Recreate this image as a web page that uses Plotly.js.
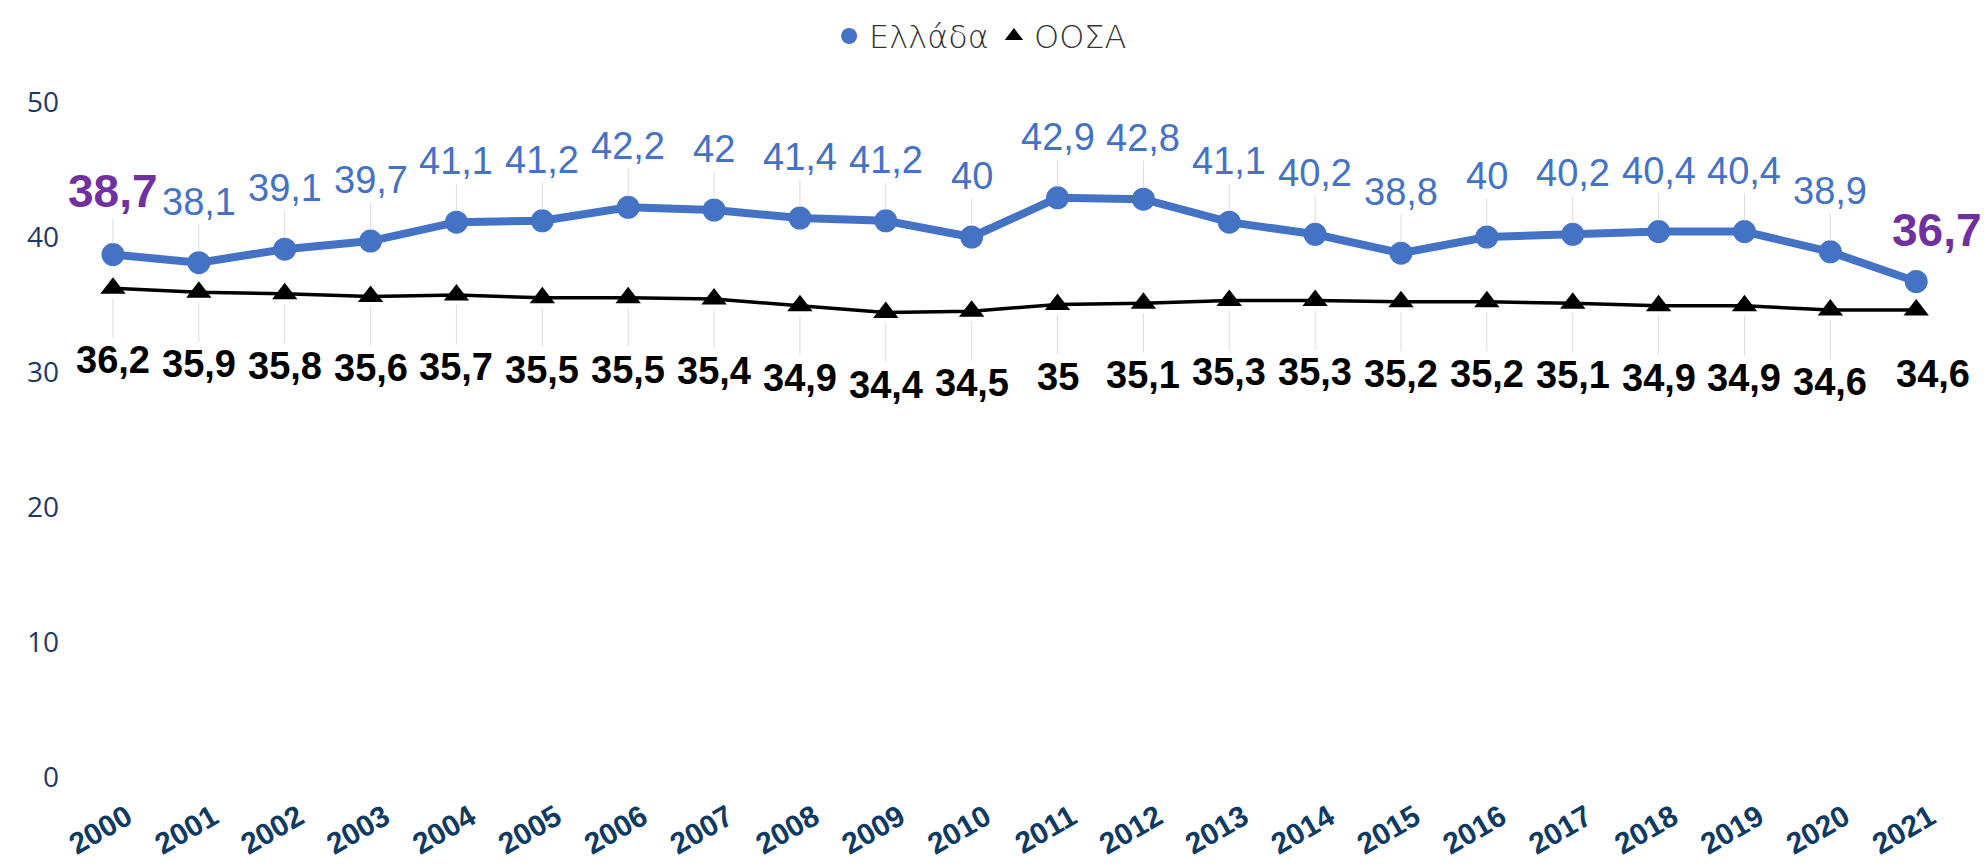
<!DOCTYPE html>
<html>
<head>
<meta charset="utf-8">
<script src="https://cdn.plot.ly/plotly-3.0.1.min.js"></script>
<style>
  html, body { margin: 0; padding: 0; background: #ffffff; }
  #chart { width: 1985px; height: 867px; }
</style>
</head>
<body>
<div id="chart"></div>
<script>
// ---- data ----
const years = ["2000","2001","2002","2003","2004","2005","2006","2007","2008","2009","2010",
               "2011","2012","2013","2014","2015","2016","2017","2018","2019","2020","2021"];
const greece = [38.7, 38.1, 39.1, 39.7, 41.1, 41.2, 42.2, 42, 41.4, 41.2, 40,
                42.9, 42.8, 41.1, 40.2, 38.8, 40, 40.2, 40.4, 40.4, 38.9, 36.7];
const oecd   = [36.2, 35.9, 35.8, 35.6, 35.7, 35.5, 35.5, 35.4, 34.9, 34.4, 34.5,
                35, 35.1, 35.3, 35.3, 35.2, 35.2, 35.1, 34.9, 34.9, 34.6, 34.6];
const seriesNames = ["Ελλάδα", "ΟΟΣΑ"];
const yTicks = [0, 10, 20, 30, 40, 50];

// ---- styles ----
const BLUE = "#4472C4";
const PURPLE = "#7030A0";
const LEADER = "#dcdcdc";
const LABEL_FONT = "Liberation Sans, Arial, sans-serif";
const fmt = v => String(v).replace(".", ",");

const traces = [
  {
    x: years, y: greece, type: "scatter", mode: "lines+markers",
    line: { color: BLUE, width: 8 },
    marker: { color: BLUE, size: 23, symbol: "circle" },
    showlegend: false, hoverinfo: "x+y", cliponaxis: false
  },
  {
    x: years, y: oecd, type: "scatter", mode: "lines+markers",
    line: { color: "#000000", width: 3.5 },
    marker: { color: "#000000", size: 22, symbol: "triangle-up" },
    showlegend: false, hoverinfo: "x+y", cliponaxis: false
  },
  {
    x: [null], y: [null], type: "scatter", mode: "markers", name: seriesNames[0],
    marker: { color: BLUE, size: 22, symbol: "circle" }
  },
  {
    x: [null], y: [null], type: "scatter", mode: "markers", name: seriesNames[1],
    marker: { color: "#000000", size: 20, symbol: "triangle-up" }
  }
];

const annotations = [];
const last = years.length - 1;
years.forEach((yr, i) => {
  const edge = (i === 0 || i === last);
  const isLast = (i === last);
  const gA = {
    x: i, y: greece[i], xref: "x", yref: "y",
    text: fmt(greece[i]),
    font: { family: LABEL_FONT, size: edge ? 46 : 38, color: edge ? PURPLE : BLUE,
            weight: edge ? 700 : 400 }
  };
  if (isLast) {
    Object.assign(gA, { showarrow: false, xshift: 21, yshift: 52 });
  } else {
    Object.assign(gA, { showarrow: true, arrowhead: 0, arrowwidth: 1, arrowcolor: LEADER,
      standoff: 11, ax: 0, ay: edge ? -64 : -61 });
  }
  annotations.push(gA);

  const oA = {
    x: i, y: oecd[i], xref: "x", yref: "y",
    text: fmt(oecd[i]),
    font: { family: LABEL_FONT, size: 38, color: "#000000", weight: 700 }
  };
  if (isLast) {
    Object.assign(oA, { showarrow: false, xshift: 17, yshift: -64 });
  } else {
    Object.assign(oA, { showarrow: true, arrowhead: 0, arrowwidth: 1, arrowcolor: LEADER,
      standoff: 10, ax: 0, ay: 72 });
  }
  annotations.push(oA);
});

const layout = {
  width: 1985, height: 867,
  margin: { l: 60, r: 25, t: 102, b: 90 },
  paper_bgcolor: "#ffffff", plot_bgcolor: "#ffffff",
  font: { family: "Open Sans, Liberation Sans, sans-serif" },
  showlegend: true,
  legend: {
    orientation: "h", xref: "container", yref: "container",
    x: 0.494, xanchor: "center", y: 0.99, yanchor: "top",
    font: { family: "DejaVu Sans, Open Sans, sans-serif", size: 32, color: "#333333", weight: 200 },
    itemwidth: 30
  },
  xaxis: {
    type: "category",
    range: [-0.617, 21.51],
    showgrid: false, zeroline: false, showline: false, ticks: "",
    tickangle: -30,
    tickfont: { family: LABEL_FONT, size: 30, color: "#0E3A63", weight: 700 },
    ticklabelstandoff: 16,
    ticklabelshift: 14
  },
  yaxis: {
    range: [0, 50],
    tickmode: "array", tickvals: yTicks, ticktext: yTicks.map(String),
    showgrid: false, zeroline: false, showline: false, ticks: "",
    tickfont: { family: "Open Sans, sans-serif", size: 28, color: "#1F3864" }
  },
  annotations: annotations
};

Plotly.newPlot("chart", traces, layout, { displayModeBar: false, staticPlot: true });
</script>
</body>
</html>
